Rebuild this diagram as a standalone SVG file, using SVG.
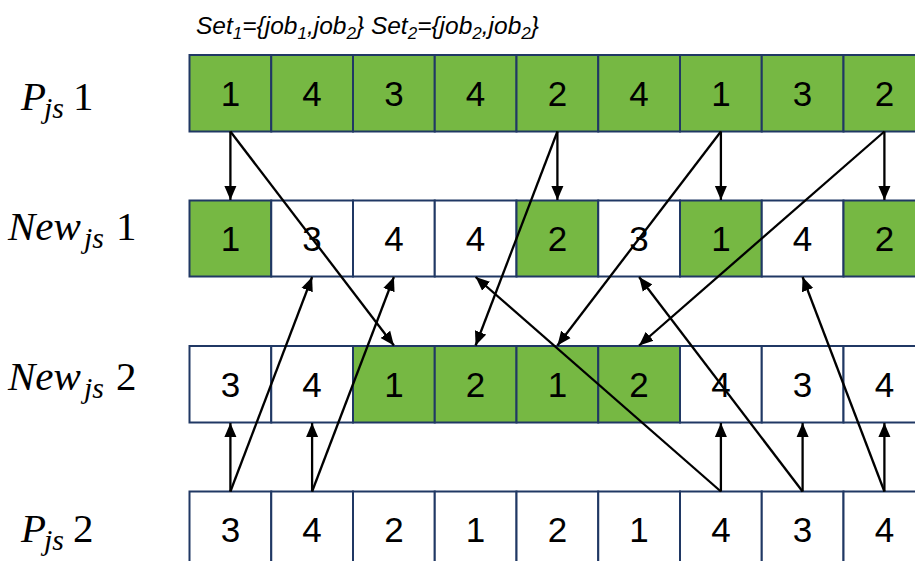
<svg xmlns="http://www.w3.org/2000/svg" width="915" height="561" viewBox="0 0 915 561">
  <style>
    .cell { stroke: #203864; stroke-width: 2; }
    .g { fill: #76B843; }
    .w { fill: #FFFFFF; }
    .num { font-family: "Liberation Sans", Arial, sans-serif; font-size: 35px; fill: #000; text-anchor: middle; }
    .lab { font-family: "Liberation Serif", "Times New Roman", serif; font-size: 41px; fill: #000; }
    .it { font-style: italic; }
    .sub { font-style: italic; font-size: 30px; }
    .set { font-family: "Liberation Sans", Arial, sans-serif; font-size: 24.5px; font-style: italic; fill: #000; }
    .set .s { font-size: 17px; }
    .arr { stroke: #000; stroke-width: 2.3; fill: none; marker-end: url(#head); }
  </style>
  <defs>
    <marker id="head" markerUnits="userSpaceOnUse" markerWidth="14" markerHeight="13" viewBox="0 0 14 13" refX="14" refY="6.5" orient="auto">
      <path d="M0,0.5 L14,6.5 L0,12.5 z" fill="#000"/>
    </marker>
  </defs>
  <rect width="915" height="561" fill="#FFFFFF"/>

  <!-- set definitions -->
  <text class="set" x="196" y="34">Set<tspan class="s" dy="5">1</tspan><tspan dy="-5">={job</tspan><tspan class="s" dy="5">1</tspan><tspan dy="-5">,job</tspan><tspan class="s" dy="5">2</tspan><tspan dy="-5">} Set</tspan><tspan class="s" dy="5">2</tspan><tspan dy="-5">={job</tspan><tspan class="s" dy="5">2</tspan><tspan dy="-5">,job</tspan><tspan class="s" dy="5">2</tspan><tspan dy="-5">}</tspan></text>

  <!-- row labels -->
  <text class="lab" y="110"><tspan class="it" x="21">P</tspan><tspan class="sub" x="44" dy="8">js</tspan><tspan x="73" dy="-8">1</tspan></text>
  <text class="lab" y="240"><tspan class="it" x="8">New</tspan><tspan class="sub" x="84" dy="8">js</tspan><tspan x="116" dy="-8">1</tspan></text>
  <text class="lab" y="390"><tspan class="it" x="8">New</tspan><tspan class="sub" x="84" dy="8">js</tspan><tspan x="116" dy="-8">2</tspan></text>
  <text class="lab" y="542"><tspan class="it" x="21">P</tspan><tspan class="sub" x="44" dy="8">js</tspan><tspan x="73" dy="-8">2</tspan></text>

  <!-- row P_js1 -->
  <g id="row-pjs1">
    <rect class="cell g" x="189.5" y="55" width="81.75" height="76.5"/>
    <rect class="cell g" x="271.25" y="55" width="81.75" height="76.5"/>
    <rect class="cell g" x="353" y="55" width="81.75" height="76.5"/>
    <rect class="cell g" x="434.75" y="55" width="81.75" height="76.5"/>
    <rect class="cell g" x="516.5" y="55" width="81.75" height="76.5"/>
    <rect class="cell g" x="598.25" y="55" width="81.75" height="76.5"/>
    <rect class="cell g" x="680" y="55" width="81.75" height="76.5"/>
    <rect class="cell g" x="761.75" y="55" width="81.75" height="76.5"/>
    <rect class="cell g" x="843.5" y="55" width="81.75" height="76.5"/>
    <text class="num" y="106"><tspan x="230.4">1</tspan><tspan x="312.1">4</tspan><tspan x="393.9">3</tspan><tspan x="475.6">4</tspan><tspan x="557.4">2</tspan><tspan x="639.1">4</tspan><tspan x="720.9">1</tspan><tspan x="802.6">3</tspan><tspan x="884.4">2</tspan></text>
  </g>

  <!-- row New_js1 -->
  <g id="row-newjs1">
    <rect class="cell g" x="189.5" y="200.5" width="81.75" height="76"/>
    <rect class="cell w" x="271.25" y="200.5" width="81.75" height="76"/>
    <rect class="cell w" x="353" y="200.5" width="81.75" height="76"/>
    <rect class="cell w" x="434.75" y="200.5" width="81.75" height="76"/>
    <rect class="cell g" x="516.5" y="200.5" width="81.75" height="76"/>
    <rect class="cell w" x="598.25" y="200.5" width="81.75" height="76"/>
    <rect class="cell g" x="680" y="200.5" width="81.75" height="76"/>
    <rect class="cell w" x="761.75" y="200.5" width="81.75" height="76"/>
    <rect class="cell g" x="843.5" y="200.5" width="81.75" height="76"/>
    <text class="num" y="251"><tspan x="230.4">1</tspan><tspan x="312.1">3</tspan><tspan x="393.9">4</tspan><tspan x="475.6">4</tspan><tspan x="557.4">2</tspan><tspan x="639.1">3</tspan><tspan x="720.9">1</tspan><tspan x="802.6">4</tspan><tspan x="884.4">2</tspan></text>
  </g>

  <!-- row New_js2 -->
  <g id="row-newjs2">
    <rect class="cell w" x="189.5" y="346" width="81.75" height="76.5"/>
    <rect class="cell w" x="271.25" y="346" width="81.75" height="76.5"/>
    <rect class="cell g" x="353" y="346" width="81.75" height="76.5"/>
    <rect class="cell g" x="434.75" y="346" width="81.75" height="76.5"/>
    <rect class="cell g" x="516.5" y="346" width="81.75" height="76.5"/>
    <rect class="cell g" x="598.25" y="346" width="81.75" height="76.5"/>
    <rect class="cell w" x="680" y="346" width="81.75" height="76.5"/>
    <rect class="cell w" x="761.75" y="346" width="81.75" height="76.5"/>
    <rect class="cell w" x="843.5" y="346" width="81.75" height="76.5"/>
    <text class="num" y="397"><tspan x="230.4">3</tspan><tspan x="312.1">4</tspan><tspan x="393.9">1</tspan><tspan x="475.6">2</tspan><tspan x="557.4">1</tspan><tspan x="639.1">2</tspan><tspan x="720.9">4</tspan><tspan x="802.6">3</tspan><tspan x="884.4">4</tspan></text>
  </g>

  <!-- row P_js2 -->
  <g id="row-pjs2">
    <rect class="cell w" x="189.5" y="491.5" width="81.75" height="76.5"/>
    <rect class="cell w" x="271.25" y="491.5" width="81.75" height="76.5"/>
    <rect class="cell w" x="353" y="491.5" width="81.75" height="76.5"/>
    <rect class="cell w" x="434.75" y="491.5" width="81.75" height="76.5"/>
    <rect class="cell w" x="516.5" y="491.5" width="81.75" height="76.5"/>
    <rect class="cell w" x="598.25" y="491.5" width="81.75" height="76.5"/>
    <rect class="cell w" x="680" y="491.5" width="81.75" height="76.5"/>
    <rect class="cell w" x="761.75" y="491.5" width="81.75" height="76.5"/>
    <rect class="cell w" x="843.5" y="491.5" width="81.75" height="76.5"/>
    <text class="num" y="542"><tspan x="230.4">3</tspan><tspan x="312.1">4</tspan><tspan x="393.9">2</tspan><tspan x="475.6">1</tspan><tspan x="557.4">2</tspan><tspan x="639.1">1</tspan><tspan x="720.9">4</tspan><tspan x="802.6">3</tspan><tspan x="884.4">4</tspan></text>
  </g>

  <!-- connectors -->
  <g id="connectors">
    <!-- P_js1 to New_js1, kept in place -->
    <line class="arr" x1="230.4" y1="131.5" x2="230.4" y2="200"/>
    <line class="arr" x1="557.4" y1="131.5" x2="557.4" y2="200"/>
    <line class="arr" x1="720.9" y1="131.5" x2="720.9" y2="200"/>
    <line class="arr" x1="884.4" y1="131.5" x2="884.4" y2="200"/>
    <!-- P_js1 to New_js2 -->
    <line class="arr" x1="230.4" y1="131.5" x2="393.9" y2="345.5"/>
    <line class="arr" x1="557.4" y1="131.5" x2="475.6" y2="345.5"/>
    <line class="arr" x1="720.9" y1="131.5" x2="557.4" y2="345.5"/>
    <line class="arr" x1="884.4" y1="131.5" x2="639.1" y2="345.5"/>
    <!-- P_js2 to New_js2, kept in place -->
    <line class="arr" x1="230.4" y1="491.5" x2="230.4" y2="423"/>
    <line class="arr" x1="312.1" y1="491.5" x2="312.1" y2="423"/>
    <line class="arr" x1="720.9" y1="491.5" x2="720.9" y2="423"/>
    <line class="arr" x1="802.6" y1="491.5" x2="802.6" y2="423"/>
    <line class="arr" x1="884.4" y1="491.5" x2="884.4" y2="423"/>
    <!-- P_js2 to New_js1 -->
    <line class="arr" x1="230.4" y1="491.5" x2="312.1" y2="277"/>
    <line class="arr" x1="312.1" y1="491.5" x2="393.9" y2="277"/>
    <line class="arr" x1="720.9" y1="491.5" x2="475.6" y2="277"/>
    <line class="arr" x1="802.6" y1="491.5" x2="639.1" y2="277"/>
    <line class="arr" x1="884.4" y1="491.5" x2="802.6" y2="277"/>
  </g>
</svg>
